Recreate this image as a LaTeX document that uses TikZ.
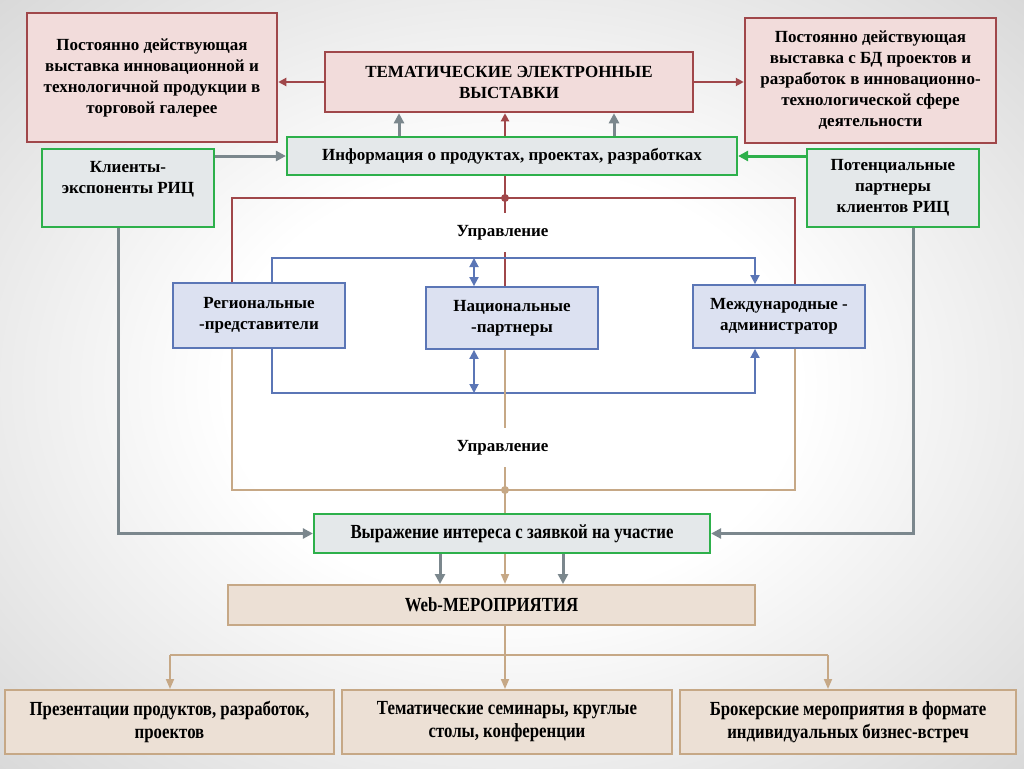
\documentclass[tikz,border=0pt]{standalone}
\usepackage{fontspec}
\setmainfont{Liberation Serif}
\newfontfamily\narrowfont[FakeStretch=0.84]{Liberation Serif}
\usetikzlibrary{arrows.meta,positioning}
\pgfdeclarelayer{back}
\pgfdeclarelayer{lines}
\pgfsetlayers{back,lines,main}
\pgfdeclareradialshading{paper}{\pgfpoint{0bp}{0bp}}{color(0bp)=(white); color(14bp)=(white); color(50bp)=(black!25); color(80bp)=(black!30)}

\definecolor{redline}{HTML}{A0474A}
\definecolor{redfill}{HTML}{F2DCDB}
\definecolor{greenline}{HTML}{2DB04B}
\definecolor{greyfill}{HTML}{E4E8EA}
\definecolor{blueline}{HTML}{5B76B6}
\definecolor{bluefill}{HTML}{DCE1F1}
\definecolor{tanline}{HTML}{C6A886}
\definecolor{tanfill}{HTML}{ECE0D5}
\definecolor{slate}{HTML}{7B878D}

\begin{document}
\begin{tikzpicture}[x=1pt,y=-1pt,font=\bfseries\fontsize{17}{21}\selectfont]
    \tikzstyle{redbox}=[draw=redline,line width=2.5pt,fill=redfill,inner sep=0pt,align=center]
    \tikzstyle{greenbox}=[draw=greenline,line width=2.2pt,fill=greyfill,inner sep=0pt,align=center]
    \tikzstyle{bluebox}=[draw=blueline,line width=1.8pt,fill=bluefill,inner sep=0pt,align=center]
    \tikzstyle{tanbox}=[draw=tanline,line width=2pt,fill=tanfill,inner sep=0pt,align=center,font=\narrowfont\bfseries\fontsize{20}{23}\selectfont]
    \tikzstyle{note}=[fill=white,inner sep=0pt,minimum width=195pt,minimum height=39pt]
    \tikzstyle{redarr}=[color=redline,line width=2.5pt,-{Triangle[length=8pt,width=8pt]}]
    \tikzstyle{greyarr}=[color=slate,line width=3pt,-{Triangle[length=10pt,width=10pt]}]
    \tikzstyle{blueline}=[color=blueline,line width=1.8pt]
    \tikzstyle{blueone}=[-{Triangle[length=9pt,width=9pt]}]
    \tikzstyle{bluetwo}=[{Triangle[length=9pt,width=9pt]}-{Triangle[length=9pt,width=9pt]}]
    \tikzstyle{tanarr}=[color=tanline,line width=1.8pt]
    \tikzstyle{tantip}=[-{Triangle[length=10pt,width=8pt]}]

    \useasboundingbox (0,0) rectangle (1024,768);
    \begin{pgfonlayer}{back}
      \shade[shading=paper] (0,0) rectangle (1024,768);
    \end{pgfonlayer}

    % top row
    \node[redbox,minimum width=250pt,minimum height=129pt] (exhibL) at (152,77.5)
      {Постоянно действующая\\выставка инновационной и\\технологичной продукции в\\торговой галерее};
    \node[redbox,minimum width=368pt,minimum height=60pt] (theme) at (509,82)
      {ТЕМАТИЧЕСКИЕ ЭЛЕКТРОННЫЕ\\ВЫСТАВКИ};
    \node[redbox,minimum width=251pt,minimum height=125pt] (exhibR) at (870.5,80.5)
      {Постоянно действующая\\выставка с БД проектов и\\разработок в инновационно-\\технологической сфере\\деятельности};

    \node[greenbox,minimum width=450pt,minimum height=38pt] (info) at (512,156)
      {Информация о продуктах, проектах, разработках};
    \node[greenbox,minimum width=172pt,minimum height=78pt] (clients) at (128,188)
      {Клиенты-\\экспоненты РИЦ\\\mbox{}};
    \node[greenbox,minimum width=172pt,minimum height=78pt] (partners) at (893,188)
      {Потенциальные\\партнеры\\клиентов РИЦ};

    % middle
    \node[note] (mgmtA) at (502.5,232.5) {Управление};
    \node[bluebox,minimum width=172pt,minimum height=65pt] (region) at (259,315.5)
      {Региональные\\-представители};
    \node[bluebox,minimum width=172pt,minimum height=62pt] (national) at (512,318)
      {Национальные\\-партнеры};
    \node[bluebox,minimum width=172pt,minimum height=63pt] (intl) at (779,316.5)
      {Международные -\\администратор};
    \node[note] (mgmtB) at (502.5,447.5) {Управление};

    % bottom
    \node[greenbox,minimum width=396pt,minimum height=39pt,font=\narrowfont\bfseries\fontsize{20}{23}\selectfont] (interest) at (512,533.5)
      {Выражение интереса с заявкой на участие};
    \node[tanbox,minimum width=527pt,minimum height=40pt] (web) at (491.5,605) {Web-МЕРОПРИЯТИЯ};
    \node[tanbox,minimum width=329pt,minimum height=64pt] (evA) at (169.5,722)
      {Презентации продуктов, разработок,\\проектов};
    \node[tanbox,minimum width=330pt,minimum height=64pt] (evB) at (507,722)
      {Тематические семинары, круглые\\столы, конференции};
    \node[tanbox,minimum width=336pt,minimum height=64pt] (evC) at (848,722)
      {Брокерские мероприятия в формате\\индивидуальных бизнес-встреч};

    \coordinate (upL) at (399,0);
    \coordinate (upR) at (614,0);
    \coordinate (spine) at (505,0);
    \coordinate (redL) at (232,198);
    \coordinate (redR) at (795,198);
    \coordinate (blueTL) at (272,258);
    \coordinate (blueTR) at (755,258);
    \coordinate (blueBL) at (272,393);
    \coordinate (blueBR) at (755,393);
    \coordinate (blueM) at (474,0);
    \coordinate (tanL) at (232,490);
    \coordinate (tanR) at (795,490);
    \coordinate (dropL) at (118,0);
    \coordinate (dropR) at (913,0);
    \coordinate (dnL) at (440,0);
    \coordinate (dnR) at (563,0);
    \coordinate (fanL) at (170,655);
    \coordinate (fanR) at (828,655);

    \begin{pgfonlayer}{lines}
    \path
    (theme.west) edge[redarr] (exhibL.east |- theme.west)
    (theme.east) edge[redarr] (exhibR.west |- theme.east)
    (info.north -| spine) edge[redarr] (theme.south -| spine)
    (info.north -| upL) edge[greyarr] (theme.south -| upL)
    (info.north -| upR) edge[greyarr] (theme.south -| upR)
    (clients.east |- info.west) edge[greyarr] (info.west)
    (interest.south -| dnL) edge[greyarr] (web.north -| dnL)
    (interest.south -| dnR) edge[greyarr] (web.north -| dnR)
    ;
    \draw[greyarr,color=greenline] (partners.west |- info.east) -- (info.east);
    \draw[greyarr] (clients.south -| dropL) |- (interest.west);
    \draw[greyarr] (partners.south -| dropR) |- (interest.east);

    % red management tree
    \draw[redline,line width=1.8pt] (info.south -| spine) -- (national.north -| spine);
    \draw[redline,line width=1.8pt] (region.north -| redL) -- (redL) -- (redR) -- (intl.north -| redR);
    \fill[redline] (spine |- redL) circle (4pt);

    % blue links
    \draw[blueline,blueone] (region.north -| blueTL) -- (blueTL) -- (blueTR) -- (intl.north -| blueTR);
    \draw[blueline,blueone] (region.south -| blueBL) -- (blueBL) -- (blueBR) -- (intl.south -| blueBR);
    \draw[blueline,bluetwo] (blueTL -| blueM) -- (national.north -| blueM);
    \draw[blueline,bluetwo] (national.south -| blueM) -- (blueBL -| blueM);

    % tan tree
    \draw[tanarr] (region.south -| tanL) -- (tanL) -- (tanR) -- (intl.south -| tanR);
    \draw[tanarr,tantip] (national.south -| spine) -- (web.north -| spine);
    \fill[tanline] (spine |- tanL) circle (4pt);
    \draw[tanarr,tantip] (web.south -| spine) -- (evB.north -| spine);
    \draw[tanarr] (fanL) -- (fanR);
    \draw[tanarr,tantip] (fanL) -- (evA.north -| fanL);
    \draw[tanarr,tantip] (fanR) -- (evC.north -| fanR);
    \end{pgfonlayer}

  \end{tikzpicture}
\end{document}
